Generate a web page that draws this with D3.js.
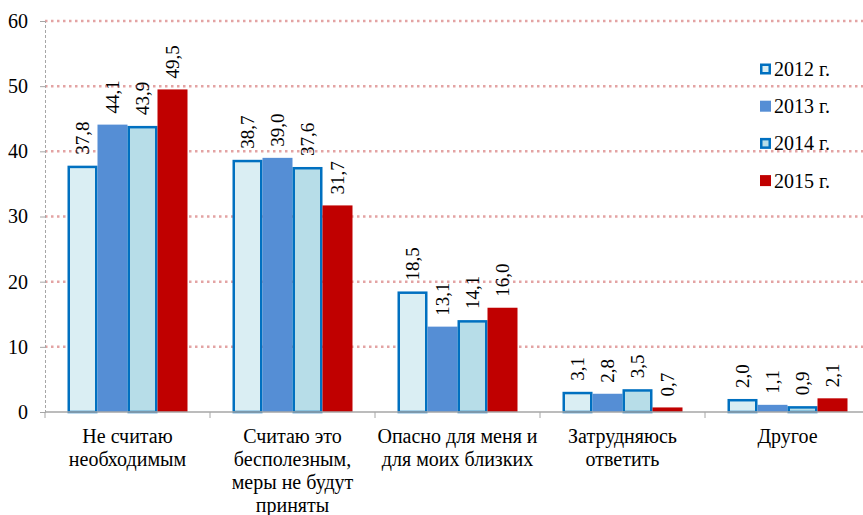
<!DOCTYPE html>
<html><head><meta charset="utf-8">
<script src="https://cdn.jsdelivr.net/npm/d3@7"></script>
<style>body{margin:0;background:#fff}svg{display:block}</style>
</head><body><svg id="c" width="863" height="515"></svg>
<script>
const categories = [
  ["Не считаю","необходимым"],
  ["Считаю это","бесполезным,","меры не будут","приняты"],
  ["Опасно для меня и","для моих близких"],
  ["Затрудняюсь","ответить"],
  ["Другое"]
];
const seriesNames = ["2012 г.","2013 г.","2014 г.","2015 г."];
const values2012 = [37.8, 38.7, 18.5, 3.1, 2.0];
const values2013 = [44.1, 39.0, 13.1, 2.8, 1.1];
const values2014 = [43.9, 37.6, 14.1, 3.5, 0.9];
const values2015 = [49.5, 31.7, 16.0, 0.7, 2.1];
const yTicks = [0,10,20,30,40,50,60];

(function(){
const FONT = '"Times New Roman",Tinos,serif';
const series = [values2012, values2013, values2014, values2015];
const styles = [
  {fill:"#DAEEF3", stroke:"#0070C0", sw:2.5},
  {fill:"#558ED5", stroke:"none", sw:0},
  {fill:"#B7DDE8", stroke:"#0070C0", sw:2.5},
  {fill:"#C00000", stroke:"none", sw:0}
];

const svg = d3.select("#c");
const pl = 45, pr = 870, pt = 21, pb = 412;
const y = d3.scaleLinear().domain([0,60]).range([pb, pt]);
const x0 = d3.scaleBand().domain(d3.range(categories.length)).range([pl, pr]).padding(0);
const x1 = d3.scaleBand().domain(d3.range(series.length)).range([22.5, x0.bandwidth()-22.5]).padding(0);

svg.append("g").selectAll("line").data(yTicks.filter(d=>d>0)).join("line")
  .attr("x1", pl).attr("x2", 863).attr("y1", d=>y(d)).attr("y2", d=>y(d))
  .attr("stroke", "#E3A3A3").attr("stroke-width", 2.5).attr("stroke-dasharray", "2.5,3.5");

const ya = svg.append("g").attr("transform", `translate(${pl},0)`)
  .call(d3.axisLeft(y).tickValues(yTicks).tickSize(5).tickPadding(12));
ya.attr("font-family", null).attr("font-size", null);
ya.select(".domain").attr("stroke","#A6A6A6").attr("stroke-dasharray","3,2");
ya.selectAll(".tick line").attr("stroke","#A6A6A6");
ya.selectAll(".tick text").style("font-family",FONT).style("font-size","20px").attr("fill","#000");

const fmt = v => d3.format(".1f")(v).replace(".", ",");
const groups = svg.append("g").selectAll("g").data(categories).join("g")
  .attr("transform", (d,i)=>`translate(${x0(i)},0)`);
series.forEach((vals, s) => {
  groups.append("rect")
    .attr("x", (d,i)=>x1(s) + styles[s].sw/2)
    .attr("width", x1.bandwidth() - styles[s].sw)
    .attr("y", (d,i)=>y(vals[i]) + styles[s].sw/2)
    .attr("height", (d,i)=>Math.max(0, pb - y(vals[i]) - styles[s].sw/2))
    .attr("fill", styles[s].fill)
    .attr("stroke", styles[s].stroke)
    .attr("stroke-width", styles[s].sw);
  groups.append("text")
    .attr("transform", (d,i)=>`translate(${x1(s)+x1.bandwidth()/2},${y(vals[i])-11}) rotate(-90)`)
    .attr("dy","0.35em")
    .style("font-family",FONT).style("font-size","19px")
    .text((d,i)=>fmt(vals[i]));
});

svg.append("line").attr("x1",pl).attr("x2",pr).attr("y1",pb).attr("y2",pb)
  .attr("stroke","#A6A6A6").attr("stroke-width",1.5);
svg.append("g").selectAll("line").data(d3.range(categories.length+1)).join("line")
  .attr("x1", d=>pl + d*x0.bandwidth()).attr("x2", d=>pl + d*x0.bandwidth())
  .attr("y1", pb).attr("y2", pb+6).attr("stroke","#A6A6A6");

svg.append("g").selectAll("text").data(categories).join("text")
  .attr("x",(d,i)=>x0(i)+x0.bandwidth()/2).attr("y",443)
  .attr("text-anchor","middle").style("font-family",FONT).style("font-size","20px")
  .each(function(d){
    const xx = d3.select(this).attr("x");
    d3.select(this).selectAll("tspan").data(d).join("tspan")
      .attr("x", xx).attr("dy",(t,k)=>k===0?0:23).text(t=>t);
  });

const lg = svg.append("g").selectAll("g").data(seriesNames).join("g")
  .attr("transform",(d,i)=>`translate(765.5,${69 + i*37.2})`);
lg.append("rect").attr("x",(d,i)=>-5.5 + styles[i].sw/2).attr("y",(d,i)=>-5.5 + styles[i].sw/2)
  .attr("width",(d,i)=>11 - styles[i].sw).attr("height",(d,i)=>11 - styles[i].sw)
  .attr("fill",(d,i)=>styles[i].fill).attr("stroke",(d,i)=>styles[i].stroke).attr("stroke-width",(d,i)=>styles[i].sw);
lg.append("text").attr("x",8.5).attr("dy","0.35em").style("font-family",FONT).style("font-size","20px").text(d=>d);
})();
</script></body></html>
